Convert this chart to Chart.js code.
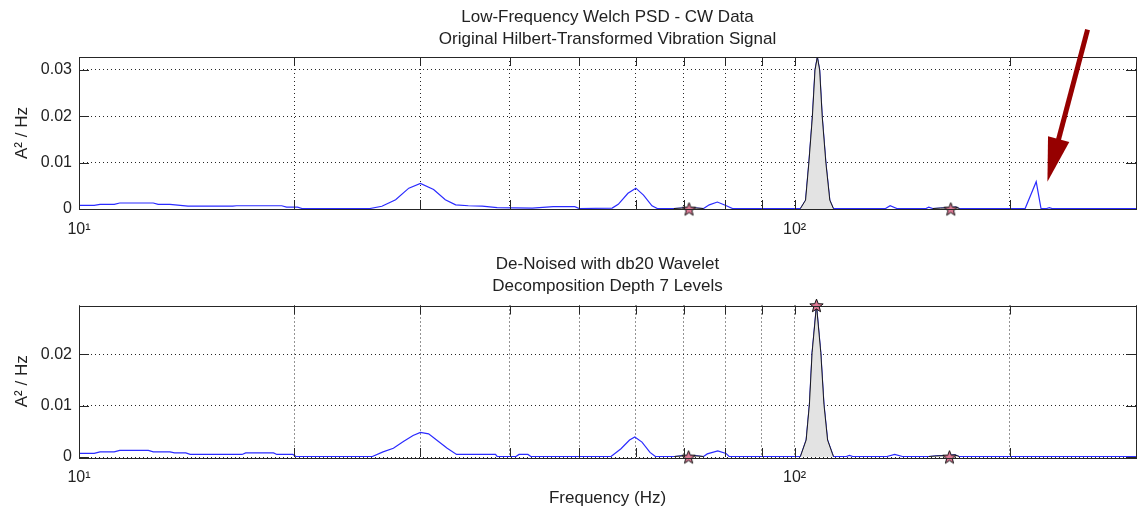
<!DOCTYPE html>
<html>
<head>
    <title>Low-Frequency Welch PSD - CW Data</title>
    <script src="https://cdn.jsdelivr.net/npm/chart.js"></script>
    <style>
        body { margin: 0; background: #fff; }
        canvas { position: absolute; left: 0; }
        #psd-top { top: 0; }
        #psd-bottom { top: 240px; }
    </style>
</head>
<body>
    <canvas id="psd-top" width="1139" height="240"></canvas>
    <canvas id="psd-bottom" width="1139" height="272"></canvas>

    <script>
        // x ticks (Hz) - only decades are labelled
        const xTicks = [10, 20, 30, 40, 50, 60, 70, 80, 90, 100, 200, 300];
        const xTickLabels = { 10: '10¹', 100: '10²' };

        // original Hilbert-transformed signal
        const freqOrig = [10, 10.5, 10.7, 11.2, 11.4, 12.7, 12.9, 13.4, 14.2, 16.4,
            16.6, 19.2, 19.5, 20.2, 20.5, 25.5, 26.5, 27.7, 28.9, 30.0,
            31.3, 32.5, 33.6, 35.0, 36.6, 38.4, 43.0, 46.0, 49.3, 50.0,
            55.6, 56.7, 58.5, 60.0, 61.5, 63.2, 64.3, 67.8, 69.5, 71.2,
            73.0, 74.6, 76.0, 78.0, 80.0, 81.9, 101.9, 103.6, 104.7, 105.9,
            106.8, 107.6, 108.4, 109.3, 110.6, 112.0, 113.3, 134.0, 136.0, 139.0,
            152.6, 154.0, 156.0, 160.0, 165.3, 168.0, 170.0, 210.0, 217.6, 221.0,
            225.0, 227.0, 229.0, 300.0];
        const psdOrig = [0.0008, 0.0008, 0.0010, 0.0010, 0.0013, 0.0013, 0.0010, 0.0010, 0.0006, 0.0006,
            0.0007, 0.0007, 0.0004, 0.0004, 0.0001, 0.0001, 0.0006, 0.0020, 0.0045, 0.0055,
            0.0042, 0.0020, 0.0009, 0.0007, 0.0006, 0.0003, 0.0002, 0.0005, 0.0005, 0.0001,
            0.0002, 0.0010, 0.0034, 0.0045, 0.0030, 0.0007, 0.0001, 0.0001, 0.0002, 0.0003,
            0.0002, 0.0001, 0.0009, 0.0015, 0.0008, 0.0001, 0.0001, 0.0019, 0.0099, 0.0199,
            0.0300, 0.0328, 0.0300, 0.0199, 0.0099, 0.0019, 0.0001, 0.0001, 0.0007, 0.0001,
            0.0001, 0.0004, 0.0001, 0.0002, 0.0003, 0.0004, 0.0001, 0.0001, 0.0059, 0.0001,
            0.0001, 0.0003, 0.0001, 0.0001];
        const bandsOrig = [[67.8, 74.6], [101.9, 113.3], [156, 170]];
        const starFreqOrig = [71.2, 165.3];
        const starPsdOrig = [0, 0];

        // de-noised (db20, 7 levels)
        const freqDen = [10, 10.5, 10.7, 11.2, 11.4, 12.5, 12.7, 13.4, 13.6, 14.1,
            14.3, 16.9, 17.1, 18.7, 18.9, 19.9, 20.1, 25.7, 26.6, 27.5,
            28.4, 29.3, 30.0, 30.8, 31.8, 32.7, 33.7, 38.2, 38.4, 40.8,
            41.2, 42.4, 42.8, 55.4, 57.2, 58.8, 59.8, 61.2, 62.8, 63.9,
            67.9, 69.5, 71.1, 73.0, 74.6, 75.5, 78.1, 80.2, 81.0, 101.9,
            103.8, 104.9, 105.8, 107.3, 108.8, 109.9, 111.2, 113.3, 118.1, 119.3,
            120.6, 134.6, 138.0, 141.5, 154.0, 158.0, 164.6, 167.5, 169.8, 300];
        const psdDen = [0.0007, 0.0007, 0.0010, 0.0010, 0.0013, 0.0013, 0.0010, 0.0010, 0.0008, 0.0008,
            0.0005, 0.0005, 0.0008, 0.0008, 0.0005, 0.0005, 0.0001, 0.0001, 0.0010, 0.0017,
            0.0030, 0.0042, 0.0048, 0.0045, 0.0030, 0.0017, 0.0005, 0.0005, 0.0001, 0.0001,
            0.0005, 0.0005, 0.0001, 0.0001, 0.0016, 0.0033, 0.0039, 0.0029, 0.0009, 0.0001,
            0.0001, 0.0002, 0.0003, 0.0002, 0.0001, 0.0006, 0.0012, 0.0007, 0.0001, 0.0001,
            0.0033, 0.0103, 0.0203, 0.0295, 0.0203, 0.0103, 0.0033, 0.0001, 0.0001, 0.0003,
            0.0001, 0.0001, 0.0005, 0.0001, 0.0001, 0.0002, 0.0003, 0.0004, 0.0001, 0.0001];
        const bandsDen = [[67.9, 74.6], [101.9, 113.3], [154, 169.8]];
        const starFreqDen = [71.1, 107.3, 164.6];
        const starPsdDen = [0, 0.0295, 0];

        // red arrow annotation (Hz, A^2/Hz): tail -> head
        const arrowFrom = [256.7, 0.0387];
        const arrowTo = [225.6, 0.0059];

        const FONT = "'Liberation Sans', Arial, sans-serif";
        Chart.defaults.font.family = FONT;
        Chart.defaults.color = '#222';

        // filled pentagram marker
        function makeStar(r) {
            const s = Math.ceil(r * 2 + 3);
            const c = document.createElement('canvas');
            c.width = c.height = s;
            const g = c.getContext('2d');
            g.beginPath();
            for (let i = 0; i < 10; i++) {
                const rr = i % 2 ? r * 0.42 : r;
                const a = -Math.PI / 2 + i * Math.PI / 5;
                const px = s / 2 + rr * Math.cos(a), py = s / 2 + 0.6 + rr * Math.sin(a);
                if (i) g.lineTo(px, py); else g.moveTo(px, py);
            }
            g.closePath();
            g.fillStyle = '#df7b96';
            g.fill();
            g.strokeStyle = '#111';
            g.lineWidth = 1;
            g.stroke();
            return c;
        }
        const starImg = makeStar(7);

        const zip = (xs, ys) => xs.map((x, i) => ({ x: x, y: ys[i] }));

        // box + inward tick marks, like a matlab axes
        const framePlugin = {
            id: 'frame',
            afterDraw(chart) {
                const { ctx, chartArea: a, scales } = chart;
                ctx.save();
                ctx.strokeStyle = '#262626';
                ctx.lineWidth = 1;
                ctx.beginPath();
                xTicks.forEach(v => {
                    const px = Math.round(scales.x.getPixelForValue(v)) + 0.5;
                    ctx.moveTo(px, a.bottom); ctx.lineTo(px, a.bottom - 9);
                    ctx.moveTo(px, a.top); ctx.lineTo(px, a.top + 9);
                });
                scales.y.ticks.forEach(t => {
                    const py = Math.round(scales.y.getPixelForValue(t.value)) + 0.5;
                    ctx.moveTo(a.left, py); ctx.lineTo(a.left + 10, py);
                    ctx.moveTo(a.right, py); ctx.lineTo(a.right - 10, py);
                });
                ctx.stroke();
                ctx.strokeRect(Math.round(a.left) + 0.5, Math.round(a.top) + 0.5,
                    Math.round(a.right - a.left), Math.round(a.bottom - a.top));
                ctx.restore();
            }
        };

        const arrowPlugin = {
            id: 'arrow',
            afterDraw(chart) {
                const { ctx, scales } = chart;
                const x0 = scales.x.getPixelForValue(arrowFrom[0]);
                const y0 = scales.y.getPixelForValue(arrowFrom[1]);
                const x1 = scales.x.getPixelForValue(arrowTo[0]);
                const y1 = scales.y.getPixelForValue(arrowTo[1]);
                const len = Math.hypot(x1 - x0, y1 - y0);
                const ux = (x1 - x0) / len, uy = (y1 - y0) / len;
                const head = 44, half = 11;
                const bx = x1 - ux * head, by = y1 - uy * head;
                ctx.save();
                ctx.strokeStyle = '#960000';
                ctx.fillStyle = '#960000';
                ctx.lineWidth = 5;
                ctx.beginPath();
                ctx.moveTo(x0, y0);
                ctx.lineTo(bx + ux * 4, by + uy * 4);
                ctx.stroke();
                ctx.beginPath();
                ctx.moveTo(x1, y1);
                ctx.lineTo(bx - uy * half, by + ux * half);
                ctx.lineTo(bx + uy * half, by - ux * half);
                ctx.closePath();
                ctx.fill();
                ctx.restore();
            }
        };

        function makePanel(id, opts) {
            const line = zip(opts.freq, opts.psd);
            const datasets = [{
                label: 'PSD',
                data: line,
                borderColor: '#2b2bff',
                borderWidth: 1.2,
                pointRadius: 0,
                fill: false,
                order: 3
            }];
            opts.bands.forEach(b => {
                datasets.push({
                    label: 'band',
                    data: line.filter(p => p.x >= b[0] && p.x <= b[1]),
                    borderColor: '#1a1a1a',
                    borderWidth: 1,
                    backgroundColor: '#e3e3e3',
                    pointRadius: 0,
                    fill: 'origin',
                    order: 2
                });
            });
            datasets.push({
                label: 'peaks',
                data: zip(opts.starFreq, opts.starPsd),
                showLine: false,
                pointStyle: starImg,
                pointRadius: 7,
                clip: false,
                order: 1
            });

            return new Chart(document.getElementById(id), {
                type: 'line',
                data: { datasets: datasets },
                plugins: opts.plugins,
                options: {
                    responsive: false,
                    animation: false,
                    devicePixelRatio: 1,
                    layout: { autoPadding: false, padding: { left: 0, right: 3, top: 0, bottom: 0 } },
                    plugins: {
                        legend: { display: false },
                        tooltip: { enabled: false },
                        title: {
                            display: true,
                            fullSize: false,
                            text: opts.title,
                            color: '#222',
                            font: { size: 17, weight: 'normal', lineHeight: 1.25 },
                            padding: opts.titlePad
                        }
                    },
                    scales: {
                        x: {
                            type: 'logarithmic',
                            min: 10,
                            max: 300,
                            afterBuildTicks: s => { s.ticks = xTicks.map(v => ({ value: v })); },
                            afterFit: s => { s.height = opts.xHeight; },
                            grid: { color: 'rgba(0,0,0,0.85)', drawTicks: false },
                            border: { display: false, dash: [1, 3] },
                            ticks: {
                                autoSkip: false,
                                maxRotation: 0,
                                padding: 2,
                                font: { size: 16, lineHeight: 2.35 },
                                callback: v => xTickLabels[v] || ''
                            },
                            title: {
                                display: !!opts.xTitle,
                                text: opts.xTitle || '',
                                font: { size: 17 },
                                padding: { top: 0, bottom: 3 }
                            }
                        },
                        y: {
                            min: 0,
                            max: opts.yMax,
                            afterBuildTicks: s => { s.ticks = opts.yTicks.map(v => ({ value: v })); },
                            afterFit: s => { s.width = 79; },
                            grid: { color: 'rgba(0,0,0,0.85)', drawTicks: false },
                            border: { display: false, dash: [1, 3] },
                            ticks: {
                                padding: 7,
                                font: { size: 16 },
                                callback: v => v === 0 ? '0' : v.toFixed(2)
                            },
                            title: {
                                display: true,
                                text: 'A² / Hz',
                                font: { size: 17 },
                                padding: { top: 12, bottom: 0 }
                            }
                        }
                    }
                }
            });
        }

        makePanel('psd-top', {
            freq: freqOrig, psd: psdOrig, bands: bandsOrig,
            starFreq: starFreqOrig, starPsd: starPsdOrig,
            title: ['Low-Frequency Welch PSD - CW Data', 'Original Hilbert-Transformed Vibration Signal'],
            titlePad: { top: 7, bottom: 7.5 },
            yMax: 0.0328, yTicks: [0, 0.01, 0.02, 0.03],
            xHeight: 31,
            plugins: [framePlugin, arrowPlugin]
        });

        makePanel('psd-bottom', {
            freq: freqDen, psd: psdDen, bands: bandsDen,
            starFreq: starFreqDen, starPsd: starPsdDen,
            title: ['De-Noised with db20 Wavelet', 'Decomposition Depth 7 Levels'],
            titlePad: { top: 14, bottom: 9 },
            yMax: 0.0295, yTicks: [0, 0.01, 0.02],
            xHeight: 55,
            xTitle: 'Frequency (Hz)',
            plugins: [framePlugin]
        });
    </script>
</body>
</html>
